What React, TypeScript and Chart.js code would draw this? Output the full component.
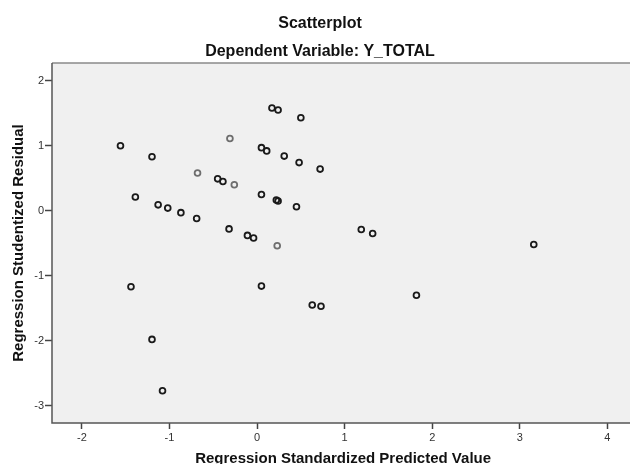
import React, { useEffect, useRef } from "react";
import { Chart, registerables } from "chart.js";

Chart.register(...registerables);

const titleText = "Scatterplot";
const subtitleText = "Dependent Variable: Y_TOTAL";
const xAxisTitle = "Regression Standardized Predicted Value";
const yAxisTitle = "Regression Studentized Residual";

const xTicks = [-2, -1, 0, 1, 2, 3, 4];
const yTicks = [-3, -2, -1, 0, 1, 2];

// dark markers
const darkX = [-1.56, -1.2, -1.39, -1.13, -1.02, -0.87, -0.69, -1.44, -1.2, -1.08, 0.17, 0.24, 0.5, 0.05, 0.11, 0.31, 0.48, 0.72, -0.45, -0.39, 0.05, 0.22, 0.24, 0.45, -0.32, -0.11, -0.04, 1.19, 1.32, 3.16, 0.05, 0.63, 0.73, 1.82];
const darkY = [1.0, 0.83, 0.21, 0.09, 0.04, -0.03, -0.12, -1.17, -1.98, -2.77, 1.58, 1.55, 1.43, 0.97, 0.92, 0.84, 0.74, 0.64, 0.49, 0.45, 0.25, 0.165, 0.15, 0.06, -0.28, -0.38, -0.42, -0.29, -0.35, -0.52, -1.16, -1.45, -1.47, -1.3];
// lighter markers
const lightX = [-0.68, -0.31, -0.26, 0.23];
const lightY = [0.58, 1.11, 0.4, -0.54];

const FONT = "'Liberation Sans', Arial, sans-serif";

export default function App() {
  const ref = useRef<HTMLCanvasElement | null>(null);

  useEffect(() => {
    document.body.style.margin = "0";
    const canvas = ref.current;
    if (!canvas) return;

    const textPlugin = {
      id: "textPlugin",
      beforeDraw(chart: any) {
        const { ctx, chartArea } = chart;
        ctx.save();
        ctx.fillStyle = "#f0f0f0";
        ctx.fillRect(chartArea.left, chartArea.top, chartArea.right - chartArea.left, chartArea.bottom - chartArea.top);
        ctx.restore();
      },
      afterDraw(chart: any) {
        const { ctx, chartArea } = chart;
        ctx.save();
        ctx.strokeStyle = "#8a8a8a";
        ctx.lineWidth = 1.5;
        ctx.beginPath();
        ctx.moveTo(chartArea.left, chartArea.top);
        ctx.lineTo(chartArea.right, chartArea.top);
        ctx.stroke();
        ctx.strokeStyle = "#555555";
        ctx.beginPath();
        ctx.moveTo(chartArea.left, chartArea.top);
        ctx.lineTo(chartArea.left, chartArea.bottom);
        ctx.lineTo(chartArea.right, chartArea.bottom);
        ctx.stroke();

        ctx.fillStyle = "#111111";
        ctx.textAlign = "center";
        ctx.textBaseline = "alphabetic";
        ctx.font = `bold 16px ${FONT}`;
        ctx.fillText(titleText, 320, 28);
        ctx.fillText(subtitleText, 320, 56);

        ctx.font = `bold 15px ${FONT}`;
        ctx.fillText(xAxisTitle, (chartArea.left + chartArea.right) / 2, 463);

        ctx.translate(23, (chartArea.top + chartArea.bottom) / 2);
        ctx.rotate(-Math.PI / 2);
        ctx.fillText(yAxisTitle, 0, 0);
        ctx.restore();
      },
    };

    const chart = new Chart(canvas, {
      type: "scatter",
      data: {
        datasets: [
          {
            label: "dark",
            data: darkX.map((x, i) => ({ x, y: darkY[i] })),
            pointStyle: "circle",
            pointRadius: 2.9,
            pointBorderWidth: 1.8,
            pointBackgroundColor: "rgba(0,0,0,0)",
            pointBorderColor: "#1a1a1a",
          },
          {
            label: "light",
            data: lightX.map((x, i) => ({ x, y: lightY[i] })),
            pointStyle: "circle",
            pointRadius: 2.9,
            pointBorderWidth: 1.8,
            pointBackgroundColor: "rgba(0,0,0,0)",
            pointBorderColor: "#6e6e6e",
          },
        ],
      },
      options: {
        animation: false,
        responsive: false,
        events: [],
        layout: { padding: { top: 63, right: 4, bottom: 0, left: 0 } },
        plugins: {
          legend: { display: false },
          title: { display: false },
          tooltip: { enabled: false },
        },
        scales: {
          x: {
            type: "linear",
            min: -2.342,
            max: 4.307,
            afterFit: (s: any) => {
              s.height = 41;
            },
            afterBuildTicks: (s: any) => {
              s.ticks = xTicks.map((v) => ({ value: v }));
            },
            grid: {
              display: true,
              drawOnChartArea: false,
              drawTicks: true,
              tickLength: 6,
              tickWidth: 1.5,
              tickColor: "#444444",
            },
            border: { display: false },
            ticks: {
              padding: 2,
              color: "#333333",
              font: { family: FONT, size: 11 },
              callback: (v: any) => String(v),
            },
          },
          y: {
            type: "linear",
            min: -3.266,
            max: 2.272,
            afterFit: (s: any) => {
              s.width = 52;
            },
            afterBuildTicks: (s: any) => {
              s.ticks = yTicks.map((v) => ({ value: v }));
            },
            grid: {
              display: true,
              drawOnChartArea: false,
              drawTicks: true,
              tickLength: 7,
              tickWidth: 1.5,
              tickColor: "#444444",
            },
            border: { display: false },
            ticks: {
              padding: 1,
              color: "#333333",
              font: { family: FONT, size: 11 },
              callback: (v: any) => String(v),
            },
          },
        },
      },
      plugins: [textPlugin],
    });

    return () => chart.destroy();
  }, []);

  return (
    <div style={{ width: 630, height: 464, overflow: "hidden", position: "relative", background: "#ffffff" }}>
      <canvas ref={ref} width={640} height={464} style={{ display: "block", width: 640, height: 464 }} />
    </div>
  );
}
